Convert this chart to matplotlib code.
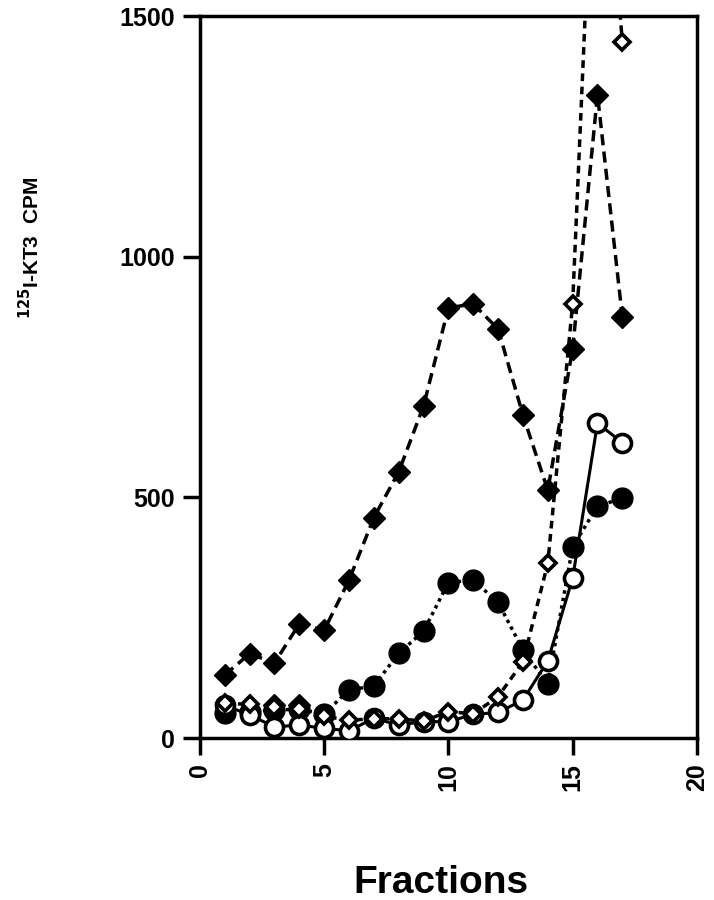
import numpy as np
import matplotlib
matplotlib.use("Agg")
import matplotlib.pyplot as plt

# Datos
fracciones = np.arange(1, 18)

# diamantes llenos (línea de guiones)
diamante_lleno = [131, 175, 156, 237, 224, 328, 458, 553, 690, 894, 902, 850, 671, 515, 808, 1337, 875]
# diamantes llenos bajos (solo visibles al inicio)
fracc_diamante_bajo = [3, 4]
diamante_bajo = [68, 68]
# diamantes abiertos (guiones cortos), fracción 16 fuera de escala
diamante_abierto = [72, 70, 65, 60, 45, 37, 40, 40, 35, 55, 50, 86, 158, 363, 902, 2090, 1447]
# círculos llenos (punteado)
circulo_lleno = [52, 55, 58, 60, 50, 100, 108, 176, 222, 323, 328, 282, 183, 112, 397, 482, 498]
# círculos abiertos (línea continua)
circulo_abierto = [68, 48, 23, 27, 20, 15, 41, 27, 34, 34, 49, 53, 79, 160, 332, 654, 614]

plt.rcParams['font.family'] = ['Liberation Sans', 'DejaVu Sans']

fig = plt.figure(figsize=(7.14, 9.0), dpi=100)
ax = fig.add_axes([0.280, 0.180, 0.696, 0.802])

ax.plot(fracciones, circulo_abierto, color='black', lw=2.2, ls='-',
        marker='o', ms=13, mfc='white', mec='black', mew=2.6, zorder=3)
ax.plot(fracciones, circulo_lleno, color='black', lw=2.5, ls=(0, (1, 1.2)),
        marker='o', ms=15, mfc='black', mec='black', zorder=2)
ax.plot(fracc_diamante_bajo, diamante_bajo, color='black', lw=2.5, ls=(0, (3, 2)),
        marker='D', ms=11.5, mfc='black', mec='black', zorder=2)
ax.plot(fracciones, diamante_abierto, color='black', lw=2.5, ls=(0, (2.2, 1.6)),
        marker='D', ms=8.5, mfc='white', mec='black', mew=2.6, zorder=4)
ax.plot(fracciones, diamante_lleno, color='black', lw=2.5, ls=(0, (3.2, 1.8)),
        marker='D', ms=11.5, mfc='black', mec='black', zorder=2)

ax.set_xlim(0, 20)
ax.set_ylim(0, 1500)
ax.set_xticks([0, 5, 10, 15, 20])
ax.set_yticks([0, 500, 1000, 1500])

for s in ax.spines.values():
    s.set_linewidth(2.5)

ax.tick_params(axis='both', direction='out', length=12, width=2.5,
               labelsize=18, pad=6)
for lab in ax.get_xticklabels():
    lab.set_rotation(90)
    lab.set_fontweight('bold')
for lab in ax.get_yticklabels():
    lab.set_fontweight('bold')

fig.text(0.043, 0.725, r'$\mathbf{^{125}}$I-KT3  CPM', rotation=90,
         ha='center', va='center', fontsize=15, fontweight='bold')
fig.text(0.617, 0.008, 'Fractions', ha='center', va='baseline',
         fontsize=28, fontweight='bold')

fig.savefig('out.png', dpi=100)
